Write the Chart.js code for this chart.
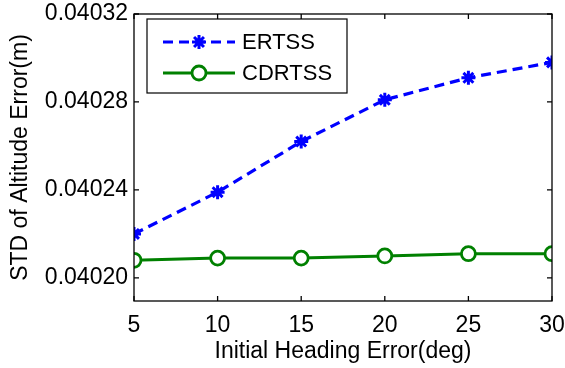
<!DOCTYPE html>
<html>
<head>
<meta charset="utf-8">
<script src="https://cdn.jsdelivr.net/npm/chart.js"></script>
<style>
  html, body { margin: 0; padding: 0; background: #fff; }
  #wrap { width: 565px; height: 368px; }
</style>
</head>
<body>
<div id="wrap"><canvas id="chart" width="565" height="368"></canvas></div>
<script>
// data
const headingErrors = [5, 10, 15, 20, 25, 30];
const ertss = [0.040220, 0.040239, 0.040262, 0.040281, 0.040291, 0.040298];
const cdrtss = [0.040208, 0.040209, 0.040209, 0.040210, 0.040211, 0.040211];
const yTicks = [0.04020, 0.04024, 0.04028, 0.04032];
const xTicks = [5, 10, 15, 20, 25, 30];

const FONT = "'Liberation Sans', Arial, Helvetica, sans-serif";
const FS = 23;

// matlab style box with inward ticks on every side
const boxPlugin = {
  id: "box",
  afterDatasetsDraw(chart) {
    const { ctx, chartArea: a, scales } = chart;
    ctx.save();
    ctx.strokeStyle = "#000";
    ctx.lineWidth = 1.3;
    ctx.strokeRect(a.left, a.top, a.right - a.left, a.bottom - a.top);
    ctx.beginPath();
    const len = 5;
    xTicks.forEach(v => {
      const x = scales.x.getPixelForValue(v);
      ctx.moveTo(x, a.bottom); ctx.lineTo(x, a.bottom - len);
      ctx.moveTo(x, a.top); ctx.lineTo(x, a.top + len);
    });
    yTicks.forEach(v => {
      const y = scales.y.getPixelForValue(v);
      ctx.moveTo(a.left, y); ctx.lineTo(a.left + len, y);
      ctx.moveTo(a.right, y); ctx.lineTo(a.right - len, y);
    });
    ctx.stroke();
    ctx.restore();
  }
};

// legend box drawn inside the axes, top left
const legendPlugin = {
  id: "innerLegend",
  afterDraw(chart) {
    const { ctx, chartArea: a } = chart;
    const x0 = a.left + 13, y0 = a.top + 5, w = 200, h = 74;
    ctx.save();
    ctx.fillStyle = "#fff";
    ctx.fillRect(x0, y0, w, h);
    ctx.strokeStyle = "#000";
    ctx.lineWidth = 1.2;
    ctx.strokeRect(x0, y0, w, h);
    chart.data.datasets.forEach((ds, i) => {
      const y = y0 + 23 + i * 31;
      ctx.beginPath();
      ctx.strokeStyle = ds.borderColor;
      ctx.lineWidth = ds.borderWidth;
      ctx.setLineDash(ds.borderDash || []);
      ctx.moveTo(x0 + 16, y);
      ctx.lineTo(x0 + 88, y);
      ctx.stroke();
      ctx.setLineDash([]);
      ctx.strokeStyle = ds.pointBorderColor;
      ctx.fillStyle = ds.pointBackgroundColor;
      ctx.lineWidth = ds.pointBorderWidth;
      Chart.helpers.drawPoint(ctx, {
        pointStyle: ds.pointStyle,
        radius: ds.pointRadius,
        borderWidth: ds.pointBorderWidth
      }, x0 + 52, y);
      ctx.fillStyle = "#000";
      ctx.font = "22px " + FONT;
      ctx.textBaseline = "middle";
      ctx.fillText(ds.label, x0 + 95, y + 1);
    });
    ctx.restore();
  }
};

new Chart(document.getElementById("chart"), {
  type: "line",
  data: {
    labels: headingErrors,
    datasets: [
      {
        label: "ERTSS",
        data: headingErrors.map((x, i) => ({ x: x, y: ertss[i] })),
        borderColor: "#0000ff",
        backgroundColor: "#0000ff",
        borderWidth: 3.2,
        borderDash: [10, 6],
        pointStyle: "star",
        pointRadius: 7,
        pointBorderWidth: 3,
        pointBorderColor: "#0000ff",
        pointBackgroundColor: "#0000ff",
        tension: 0
      },
      {
        label: "CDRTSS",
        data: headingErrors.map((x, i) => ({ x: x, y: cdrtss[i] })),
        borderColor: "#008000",
        backgroundColor: "#ffffff",
        borderWidth: 3,
        pointStyle: "circle",
        pointRadius: 7,
        pointBorderWidth: 2.8,
        pointBorderColor: "#008000",
        pointBackgroundColor: "#ffffff",
        tension: 0
      }
    ]
  },
  options: {
    responsive: false,
    animation: false,
    layout: { padding: { top: 14, right: 13, left: 0, bottom: 0 } },
    plugins: {
      legend: { display: false },
      tooltip: { enabled: false }
    },
    scales: {
      x: {
        type: "linear",
        min: 5,
        max: 30,
        afterBuildTicks: s => { s.ticks = xTicks.map(v => ({ value: v })); },
        afterFit: s => { s.height = 67; s.paddingLeft = 0; s.paddingRight = 0; },
        grid: { display: false, drawTicks: false },
        border: { display: false },
        ticks: { color: "#000", padding: 11, maxRotation: 0, font: { family: FONT, size: FS } },
        title: {
          display: true,
          text: "Initial Heading Error(deg)",
          color: "#000",
          padding: { top: 0, bottom: 3 },
          font: { family: FONT, size: FS }
        }
      },
      y: {
        min: 0.0401895,
        max: 0.04032,
        afterBuildTicks: s => { s.ticks = yTicks.map(v => ({ value: v })); },
        afterFit: s => { s.width = 134; s.paddingTop = 0; s.paddingBottom = 0; },
        grid: { display: false, drawTicks: false },
        border: { display: false },
        ticks: {
          color: "#000",
          padding: 6,
          font: { family: FONT, size: FS },
          callback: v => v.toFixed(5)
        },
        title: {
          display: true,
          text: "STD of Altitude Error(m)",
          color: "#000",
          padding: { top: 7, bottom: 0 },
          font: { family: FONT, size: FS }
        }
      }
    }
  },
  plugins: [boxPlugin, legendPlugin]
});
</script>
</body>
</html>
